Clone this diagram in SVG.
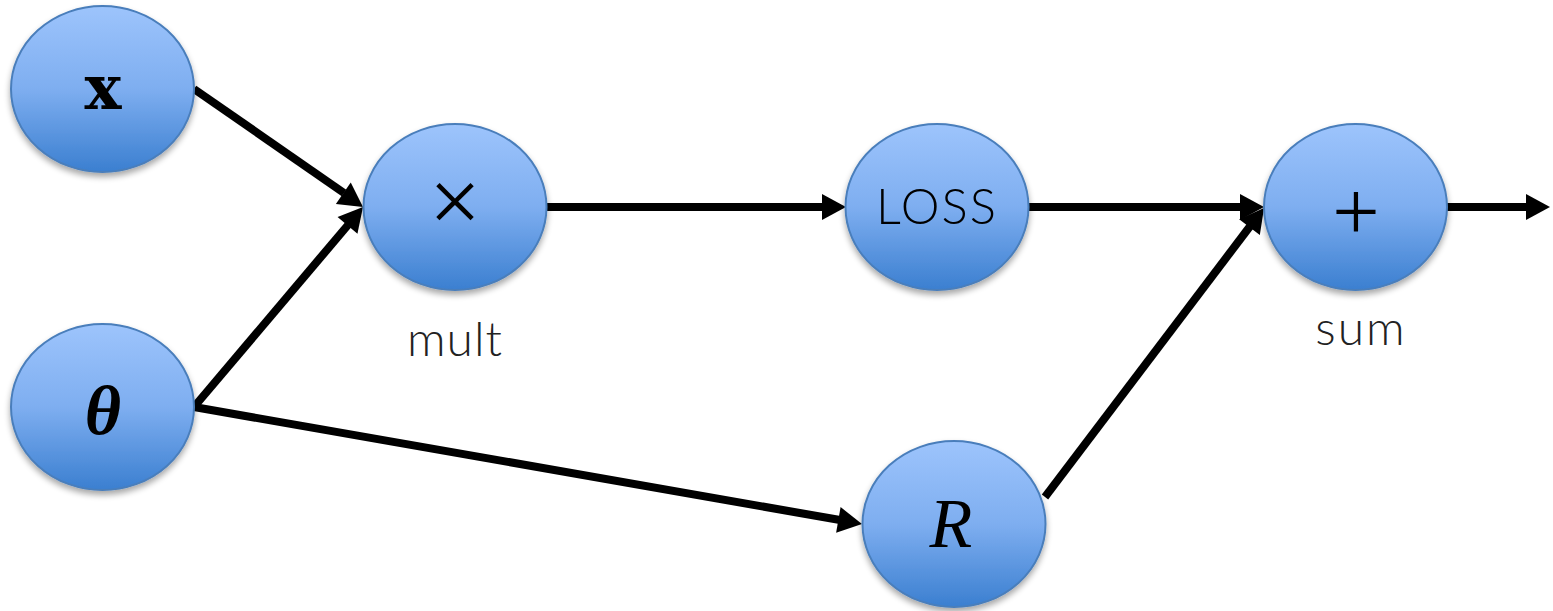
<svg xmlns="http://www.w3.org/2000/svg" width="1553" height="611" viewBox="0 0 1553 611">
<style>
.node{fill:url(#g);stroke:#4a7ebb;stroke-width:2;filter:url(#sh)}
.math{font-family:"DejaVu Serif","Liberation Serif",serif;fill:#000;text-anchor:middle}
.lbl{font-family:Lato,"Open Sans",sans-serif;font-weight:300;fill:#222;text-anchor:middle}
.e{stroke:#000;stroke-width:8;fill:none}
</style>
<defs>
<linearGradient id="g" x1="0" y1="0" x2="0" y2="1">
<stop offset="0" stop-color="#9dc4fc"/>
<stop offset="0.5" stop-color="#7eaef0"/>
<stop offset="1" stop-color="#3b7fd0"/>
</linearGradient>
<filter id="sh" x="-20%" y="-20%" width="140%" height="150%">
<feGaussianBlur in="SourceAlpha" stdDeviation="3"/>
<feOffset dx="0" dy="4" result="b"/>
<feComponentTransfer><feFuncA type="linear" slope="0.35"/></feComponentTransfer>
<feMerge><feMergeNode/><feMergeNode in="SourceGraphic"/></feMerge>
</filter>
<path id="head" d="M0,0 L-24,-13 L-24,13 z"/>
</defs>
<g id="connectors" fill="#000">
<path class="e" d="M194,89 L344,193" stroke-width="8"/>
<use href="#head" transform="translate(363,207) rotate(34.9)"/>
<path class="e" d="M194,407 L348,225" stroke-width="8"/>
<use href="#head" transform="translate(363,207) rotate(-49.8)"/>
<path class="e" d="M194,407 L840,520" stroke-width="8"/>
<use href="#head" transform="translate(862,524) rotate(9.9)"/>
<path class="e" d="M546,207 L826,207" stroke-width="8"/>
<use href="#head" transform="translate(846,207)"/>
<path class="e" d="M1028,207 L1244,207" stroke-width="8"/>
<use href="#head" transform="translate(1264,207)"/>
<path class="e" d="M1045,497 L1251,225" stroke-width="8"/>
<use href="#head" transform="translate(1264,208) rotate(-52.8)"/>
<path class="e" d="M1447,207 L1530,207" stroke-width="8"/>
<use href="#head" transform="translate(1550,207)"/>
</g>
<g id="node-x">
<ellipse class="node" cx="102.5" cy="89" rx="91.5" ry="83"/>
<text class="math" x="103" y="109" font-size="62" font-weight="bold" font-style="normal">x</text>
</g>
<g id="node-theta">
<ellipse class="node" cx="102.5" cy="407" rx="91.5" ry="83"/>
<text class="math" x="103" y="434" font-size="70" font-weight="bold" font-style="italic" style="font-family:'Liberation Serif',serif">θ</text>
</g>
<g id="node-mult">
<ellipse class="node" cx="455" cy="207" rx="91.5" ry="83"/>
<text x="455" y="232" font-size="92" text-anchor="middle" font-family="Liberation Serif, serif">×</text>
<text class="lbl" x="455" y="356" font-size="48" letter-spacing="1">mult</text>
</g>
<g id="node-loss">
<ellipse class="node" cx="937" cy="207" rx="91.5" ry="83"/>
<text class="lbl" x="937" y="224" font-size="49" letter-spacing="2" style="fill:#000">LOSS</text>
</g>
<g id="node-sum">
<ellipse class="node" cx="1355.5" cy="207" rx="91.5" ry="83"/>
<text x="1356" y="240" font-size="84" text-anchor="middle" font-family="Liberation Serif, serif">+</text>
<text class="lbl" x="1361" y="345" font-size="48" letter-spacing="2">sum</text>
</g>
<g id="node-R">
<ellipse class="node" cx="954" cy="524" rx="91.5" ry="83"/>
<text x="951" y="547" font-size="70" font-style="italic" text-anchor="middle" font-family="Liberation Serif, serif">R</text>
</g>
</svg>
